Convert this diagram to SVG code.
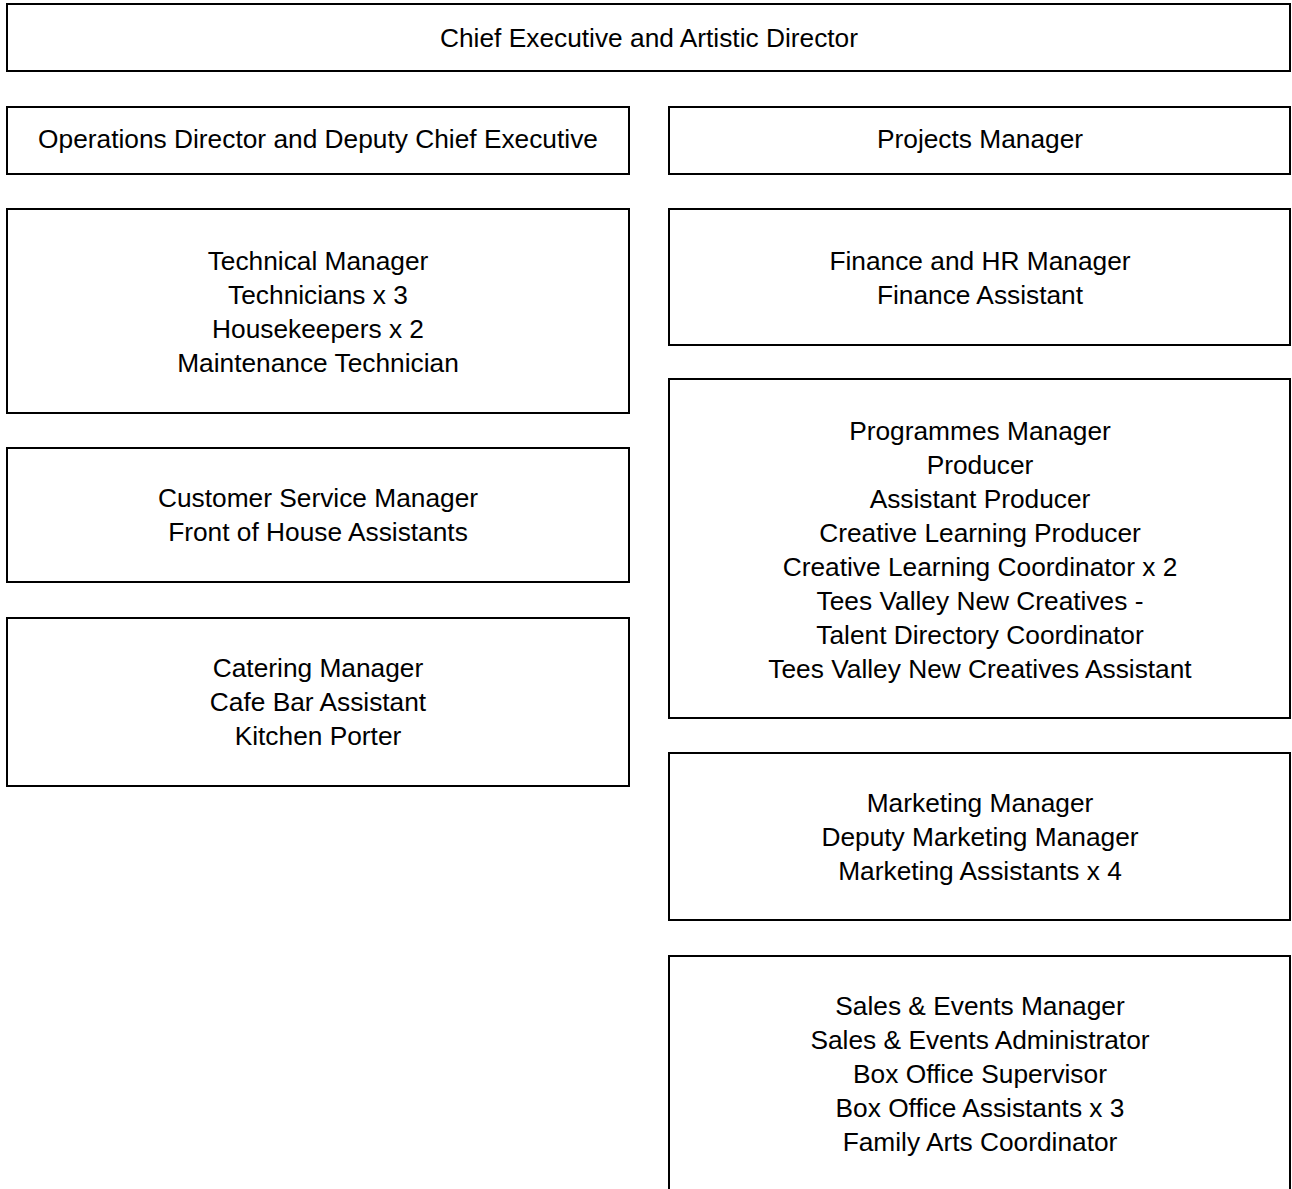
<svg xmlns="http://www.w3.org/2000/svg" width="1292" height="1189" viewBox="0 0 1292 1189">
<style>
rect.box{fill:#fff;stroke:#000;stroke-width:2}
text{font-family:"Liberation Sans",Arial,sans-serif;font-size:26.3px;fill:#000;text-anchor:middle}
</style>
<rect width="1292" height="1189" fill="#fff"/>
<g id="connectors"></g>
<g id="ceo"><rect class="box" x="7" y="4" width="1283" height="67"/><text x="649" y="47">Chief Executive and Artistic Director</text></g>
<g id="ops"><rect class="box" x="7" y="107" width="622" height="67"/><text x="318" y="148">Operations Director and Deputy Chief Executive</text></g>
<g id="projects"><rect class="box" x="669" y="107" width="621" height="67"/><text x="980" y="148">Projects Manager</text></g>
<g id="technical"><rect class="box" x="7" y="209" width="622" height="204"/><text x="318" y="270">Technical Manager</text><text x="318" y="304">Technicians x 3</text><text x="318" y="338">Housekeepers x 2</text><text x="318" y="372">Maintenance Technician</text></g>
<g id="customer"><rect class="box" x="7" y="448" width="622" height="134"/><text x="318" y="507">Customer Service Manager</text><text x="318" y="541">Front of House Assistants</text></g>
<g id="catering"><rect class="box" x="7" y="618" width="622" height="168"/><text x="318" y="677">Catering Manager</text><text x="318" y="711">Cafe Bar Assistant</text><text x="318" y="745">Kitchen Porter</text></g>
<g id="finance"><rect class="box" x="669" y="209" width="621" height="136"/><text x="980" y="270">Finance and HR Manager</text><text x="980" y="304">Finance Assistant</text></g>
<g id="programmes"><rect class="box" x="669" y="379" width="621" height="339"/><text x="980" y="440">Programmes Manager</text><text x="980" y="474">Producer</text><text x="980" y="508">Assistant Producer</text><text x="980" y="542">Creative Learning Producer</text><text x="980" y="576">Creative Learning Coordinator x 2</text><text x="980" y="610">Tees Valley New Creatives -</text><text x="980" y="644">Talent Directory Coordinator</text><text x="980" y="678">Tees Valley New Creatives Assistant</text></g>
<g id="marketing"><rect class="box" x="669" y="753" width="621" height="167"/><text x="980" y="812">Marketing Manager</text><text x="980" y="846">Deputy Marketing Manager</text><text x="980" y="880">Marketing Assistants x 4</text></g>
<g id="sales"><rect class="box" x="669" y="956" width="621" height="250"/><text x="980" y="1015">Sales &amp; Events Manager</text><text x="980" y="1049">Sales &amp; Events Administrator</text><text x="980" y="1083">Box Office Supervisor</text><text x="980" y="1117">Box Office Assistants x 3</text><text x="980" y="1151">Family Arts Coordinator</text></g>
</svg>
